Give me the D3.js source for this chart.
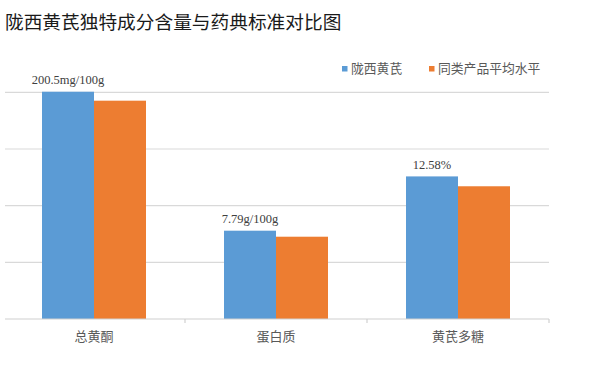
<!DOCTYPE html>
<html><head><meta charset="utf-8">
<script src="https://cdn.jsdelivr.net/npm/d3@7"></script>
<style>body{margin:0;background:#fff}</style>
</head><body>
<svg id="c" width="599" height="372"></svg>
<script>
const title = "陇西黄芪独特成分含量与药典标准对比图";
const categories = ["总黄酮", "蛋白质", "黄芪多糖"];
const seriesNames = ["陇西黄芪", "同类产品平均水平"];
const seriesLocal = [200.5, 77.9, 125.8];
const seriesAverage = [192.6, 72.6, 117.1];
const valueLabels = ["200.5mg/100g", "7.79g/100g", "12.58%"];
const gridTicks = [0, 50, 100, 150, 200];
const colors = ["#5B9BD5", "#ED7D31"];

const svg = d3.select("#c");
svg.append("text").attr("x", 5).attr("y", 29)
  .attr("font-family", "'Noto Sans CJK SC', sans-serif").attr("font-size", 18.7)
  .attr("fill", "#1a1a1a").text(title);

const y = d3.scaleLinear().domain([0, 200]).range([319, 92.3]);
const x0 = d3.scaleBand().domain(categories).range([3, 549]);
const bw = x0.bandwidth();
const pad = (bw - 104) / 2;
const x1 = d3.scaleBand().domain(seriesNames).range([pad, bw - pad]);

// gridlines
svg.append("g").selectAll("line").data(gridTicks.filter(d => d > 0)).join("line")
  .attr("x1", 5).attr("x2", 549).attr("y1", d => y(d)).attr("y2", d => y(d))
  .attr("stroke", "#d9d9d9").attr("stroke-width", 1.2);

const rows = categories.map((c, i) => ({c, vals: [seriesLocal[i], seriesAverage[i]], label: valueLabels[i]}));
const g = svg.append("g").selectAll("g").data(rows).join("g")
  .attr("transform", d => `translate(${x0(d.c)},0)`);
g.selectAll("rect").data(d => d.vals.map((v, j) => ({v, s: seriesNames[j], j}))).join("rect")
  .attr("x", d => x1(d.s)).attr("width", x1.bandwidth())
  .attr("y", d => y(d.v)).attr("height", d => y(0) - y(d.v))
  .attr("fill", d => colors[d.j]);
g.append("text")
  .attr("x", x1(seriesNames[0]) + x1.bandwidth() / 2)
  .attr("y", d => y(d.vals[0]) - 7.5)
  .attr("text-anchor", "middle")
  .attr("font-family", "'Liberation Serif', serif").attr("font-size", 12.5)
  .attr("fill", "#404040").text(d => d.label);

// x axis
const xAxis = svg.append("g").attr("transform", "translate(0,319)")
  .call(d3.axisBottom(x0).tickSize(0).tickPadding(13));
xAxis.select(".domain").attr("d", "M5,0H549").attr("stroke", "#d0d0d0").attr("stroke-width", 1.2);
xAxis.selectAll("text").attr("font-family", "'Noto Sans CJK SC', serif").attr("font-size", 13)
  .attr("fill", "#595959");
xAxis.selectAll(".sep").data(categories.slice(1).map(c => x0(c)).concat([549])).join("line")
  .attr("class", "sep").attr("x1", d => d).attr("x2", d => d).attr("y1", 0).attr("y2", 4)
  .attr("stroke", "#d0d0d0").attr("stroke-width", 1.2);

// legend
const legX = [342, 429];
const leg = svg.append("g").selectAll("g").data(seriesNames).join("g")
  .attr("transform", (d, i) => `translate(${legX[i]},66)`);
leg.append("rect").attr("width", 5.5).attr("height", 5.5).attr("y", 0).attr("fill", (d, i) => colors[i]);
leg.append("text").attr("x", 9).attr("y", 7).attr("font-family", "'Noto Sans CJK SC', serif")
  .attr("font-size", 12.8).attr("fill", "#595959").text(d => d);
</script>
</body></html>
